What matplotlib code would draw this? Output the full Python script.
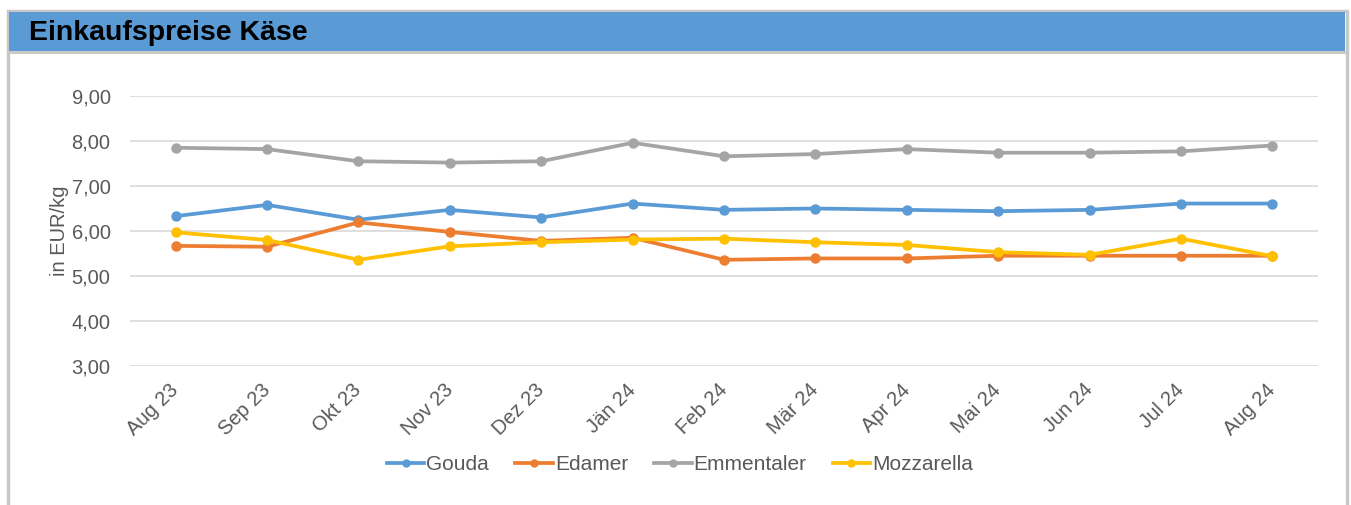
import matplotlib.pyplot as plt
from matplotlib.patches import Rectangle
from matplotlib.lines import Line2D

plt.rcParams['font.family'] = ['Liberation Sans', 'DejaVu Sans']

months = ["Aug 23", "Sep 23", "Okt 23", "Nov 23", "Dez 23", "Jän 24", "Feb 24",
          "Mär 24", "Apr 24", "Mai 24", "Jun 24", "Jul 24", "Aug 24"]
gouda = [6.33, 6.58, 6.25, 6.47, 6.30, 6.61, 6.47, 6.50, 6.47, 6.44, 6.47, 6.61, 6.61]
edamer = [5.67, 5.65, 6.19, 5.98, 5.78, 5.85, 5.36, 5.39, 5.39, 5.45, 5.45, 5.45, 5.45]
emmentaler = [7.85, 7.82, 7.55, 7.52, 7.55, 7.96, 7.66, 7.71, 7.82, 7.74, 7.74, 7.77, 7.90]
mozzarella = [5.97, 5.80, 5.36, 5.66, 5.75, 5.81, 5.83, 5.75, 5.69, 5.53, 5.47, 5.83, 5.44]
yticks = [3, 4, 5, 6, 7, 8, 9]

series = [("Gouda", gouda, "#5B9BD5"),
          ("Edamer", edamer, "#ED7D31"),
          ("Emmentaler", emmentaler, "#A5A5A5"),
          ("Mozzarella", mozzarella, "#FFC000")]

W, H = 1351, 505
fig = plt.figure(figsize=(W / 100, H / 100), dpi=100)

# outer frame and title bar
fig.patches.append(Rectangle((7.5 / W, -0.1), (1346.5 - 7.5) / W, (H - 11) / H + 0.1,
                             transform=fig.transFigure, fill=False,
                             edgecolor="#C8C8C8", linewidth=2.5))
fig.patches.append(Rectangle((9 / W, (H - 51) / H), (1345 - 9) / W, 39 / H,
                             transform=fig.transFigure, facecolor="#5B9BD5",
                             edgecolor="none"))
fig.lines.append(Line2D([9 / W, 1345 / W], [(H - 52) / H] * 2, transform=fig.transFigure,
                        color="#C8C8C8", linewidth=2))
fig.text(29 / W, (H - 33) / H, "Einkaufspreise Käse", fontsize=20.5, fontweight="bold",
         va="center", ha="left", color="black")

ax = fig.add_axes([130 / W, (H - 366) / H, (1318 - 130) / W, (366 - 96) / H])
x = list(range(len(months)))
for name, vals, col in series:
    ax.plot(x, vals, color=col, linewidth=2.7, marker="o", markersize=6.5,
            label=name, solid_capstyle="round")

ax.set_xlim(-0.5, len(months) - 0.5)
ax.set_ylim(3, 9)
ax.set_yticks(yticks)
ax.set_yticklabels([f"{v:.2f}".replace(".", ",") for v in yticks])
ax.set_xticks(x)
ax.set_xticklabels(months, rotation=45, ha="right", va="center", rotation_mode="anchor")
ax.tick_params(axis="both", length=0, colors="#595959", labelsize=14.5)
ax.tick_params(axis="y", pad=14)
ax.tick_params(axis="x", pad=15)
ax.grid(axis="y", color="#D9D9D9", linewidth=1.2)
ax.set_axisbelow(True)
for s in ax.spines.values():
    s.set_visible(False)
ax.set_ylabel("in EUR/kg", fontsize=14.5, color="#595959", labelpad=2)

handles = [Line2D([], [], color=col, linewidth=2.7, marker="o", markersize=5)
           for _, _, col in series]
fig.legend(handles, [s[0] for s in series], loc="center", ncol=4,
           bbox_to_anchor=(680 / W, (H - 465) / H), frameon=False,
           fontsize=15, handlelength=1.8, handletextpad=0.1, columnspacing=1.25,
           labelcolor="#595959")

fig.savefig("out.png", dpi=100)
